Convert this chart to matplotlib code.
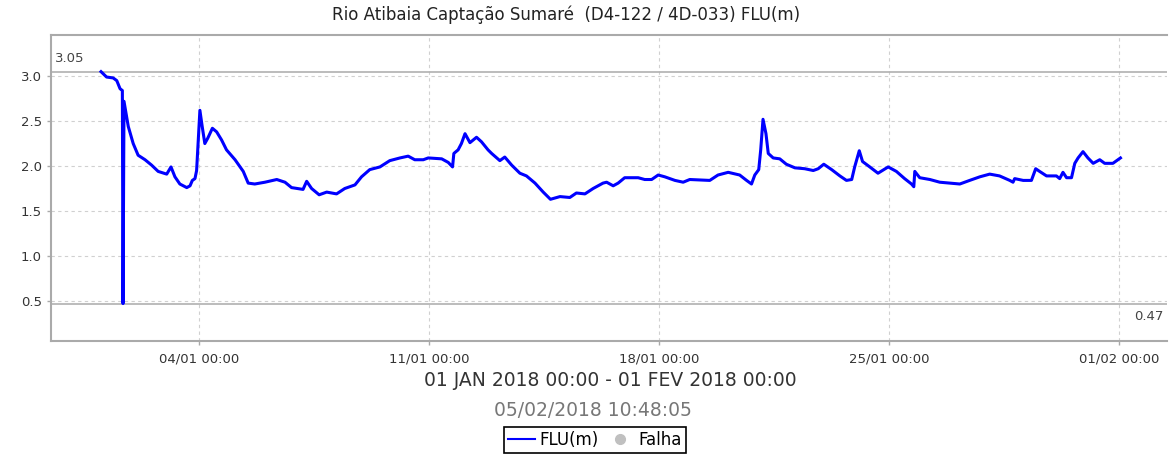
import pandas as pd
import matplotlib
matplotlib.use('Agg')
import matplotlib.pyplot as plt
import matplotlib.dates as mdates
from matplotlib.lines import Line2D

# --- dados (dias desde 01/01/2018 00:00, nível em m) ---
dias = [0.02, 0.19, 0.39, 0.50, 0.60, 0.67, 0.69, 0.72, 0.85, 1.00, 1.15, 1.36,
        1.56, 1.76, 2.02, 2.15, 2.27, 2.42, 2.63, 2.73, 2.80, 2.88, 2.93, 3.03,
        3.10, 3.18, 3.27, 3.41, 3.54, 3.69, 3.84, 4.10, 4.35, 4.50, 4.70, 5.01,
        5.37, 5.62, 5.82, 6.17, 6.28, 6.43, 6.66, 6.89, 7.19, 7.44, 7.75, 7.95,
        8.20, 8.51, 8.81, 9.12, 9.37, 9.57, 9.83, 9.98, 10.39, 10.59, 10.72, 10.76,
        10.89, 10.99, 11.10, 11.25, 11.45, 11.60, 11.80, 11.91, 12.16, 12.31, 12.52,
        12.77, 12.97, 13.23, 13.48, 13.70, 13.99, 14.29, 14.49, 14.75, 15.00, 15.30,
        15.41, 15.61, 15.76, 15.96, 16.37, 16.57, 16.78, 16.98, 17.18, 17.49, 17.74,
        17.94, 18.55, 18.80, 19.11, 19.46, 19.67, 19.82, 19.92, 20.04, 20.10, 20.17,
        20.26, 20.33, 20.48, 20.68, 20.88, 21.14, 21.44, 21.70, 21.85, 22.02, 22.26,
        22.51, 22.71, 22.87, 22.96, 23.10, 23.20, 23.42, 23.67, 23.98, 24.23, 24.48,
        24.69, 24.76, 24.79, 24.94, 25.25, 25.55, 25.86, 26.16, 26.46, 26.77, 27.07,
        27.37, 27.68, 27.78, 27.83, 28.09, 28.34, 28.47, 28.59, 28.80, 29.10, 29.20,
        29.30, 29.41, 29.56, 29.66, 29.76, 29.91, 30.06, 30.22, 30.42, 30.57, 30.82,
        31.05]
nivel = [3.05, 2.99, 2.98, 2.95, 2.86, 2.84, 0.47, 2.72, 2.44, 2.25, 2.12, 2.07,
         2.01, 1.94, 1.91, 1.99, 1.88, 1.80, 1.76, 1.78, 1.84, 1.86, 1.95, 2.62,
         2.44, 2.25, 2.31, 2.42, 2.38, 2.29, 2.18, 2.07, 1.94, 1.81, 1.80, 1.82,
         1.85, 1.82, 1.76, 1.74, 1.83, 1.75, 1.68, 1.71, 1.69, 1.75, 1.79, 1.88,
         1.96, 1.99, 2.06, 2.09, 2.11, 2.07, 2.07, 2.09, 2.08, 2.04, 1.99, 2.14,
         2.18, 2.25, 2.36, 2.26, 2.32, 2.27, 2.18, 2.14, 2.06, 2.10, 2.01,
         1.92, 1.89, 1.81, 1.71, 1.63, 1.66, 1.65, 1.70, 1.69, 1.75, 1.81,
         1.82, 1.78, 1.81, 1.87, 1.87, 1.85, 1.85, 1.90, 1.88, 1.84, 1.82,
         1.85, 1.84, 1.90, 1.93, 1.90, 1.84, 1.80, 1.90, 1.96, 2.18, 2.52,
         2.36, 2.14, 2.09, 2.08, 2.02, 1.98, 1.97, 1.95, 1.97, 2.02, 1.96,
         1.89, 1.84, 1.85, 1.99, 2.17, 2.05, 1.99, 1.92, 1.99, 1.94, 1.86,
         1.80, 1.77, 1.94, 1.87, 1.85, 1.82, 1.81, 1.80, 1.84, 1.88, 1.91,
         1.89, 1.84, 1.82, 1.86, 1.84, 1.84, 1.97, 1.94, 1.89, 1.89, 1.86,
         1.93, 1.87, 1.87, 2.03, 2.09, 2.16, 2.09, 2.03, 2.07, 2.03, 2.03,
         2.09]

inicio = pd.Timestamp('2018-01-01 00:00')
tempo = inicio + pd.to_timedelta(dias, unit='D')
y_ticks = [0.5, 1.0, 1.5, 2.0, 2.5, 3.0]
x_ticks = ['2018-01-04', '2018-01-11', '2018-01-18', '2018-01-25', '2018-02-01']
v_max, v_min = max(nivel), min(nivel)

fig = plt.figure(figsize=(11.69, 4.59), dpi=100)
ax = fig.add_axes([0.0436, 0.257, 0.9545, 0.667])

ax.plot(tempo, nivel, color='#0000ff', linewidth=2.2, zorder=3)

# linhas de máximo / mínimo
ax.axhline(v_max, color='#b0b0b0', linewidth=1.2, zorder=2)
ax.axhline(v_min, color='#b0b0b0', linewidth=1.2, zorder=2)
ax.text(0.004, v_max + 0.07, f'{v_max:.2f}', transform=ax.get_yaxis_transform(),
        fontsize=9.5, color='#444444', ha='left', va='bottom')
ax.text(0.997, v_min - 0.07, f'{v_min:.2f}', transform=ax.get_yaxis_transform(),
        fontsize=9.5, color='#444444', ha='right', va='top')

ax.set_xlim(inicio - pd.Timedelta(days=1.503), inicio + pd.Timedelta(days=32.46))
ax.set_ylim(0.053, 3.459)
ax.set_yticks(y_ticks)
ax.set_yticklabels([f'{v:.1f}' for v in y_ticks])
ax.set_xticks(pd.to_datetime(x_ticks))
ax.xaxis.set_major_formatter(mdates.DateFormatter('%d/%m %H:%M'))

ax.grid(True, color='#d0d0d0', linestyle=(0, (3, 3)), linewidth=0.8)
ax.set_axisbelow(True)
for s in ax.spines.values():
    s.set_color('#aaaaaa')
    s.set_linewidth(1.5)
ax.spines['right'].set_visible(False)
ax.tick_params(axis='both', labelsize=9.5, colors='#aaaaaa', labelcolor='#333333',
               length=3, width=1)
ax.tick_params(axis='x', pad=5)

fig.text(0.484, 0.967, 'Rio Atibaia Captação Sumaré  (D4-122 / 4D-033) FLU(m)',
         ha='center', va='center', fontsize=12, color='#222222')
fig.text(0.522, 0.170, '01 JAN 2018 00:00 - 01 FEV 2018 00:00',
         ha='center', va='center', fontsize=13.5, color='#333333')
fig.text(0.507, 0.105, '05/02/2018 10:48:05',
         ha='center', va='center', fontsize=13.5, color='#777777')

handles = [Line2D([], [], color='#0000ff', linewidth=1.5),
           Line2D([], [], color='#c0c0c0', marker='o', linestyle='none', markersize=7)]
leg = fig.legend(handles, ['FLU(m)', 'Falha'], loc='center', bbox_to_anchor=(0.509, 0.041),
                 ncol=2, fontsize=12, frameon=True, fancybox=False, framealpha=1,
                 handlelength=1.6, handletextpad=0.3, columnspacing=0.5,
                 borderpad=0.25, borderaxespad=0)
leg.get_frame().set_edgecolor('black')
leg.get_frame().set_linewidth(1.2)

fig.savefig('out.png', dpi=100)
